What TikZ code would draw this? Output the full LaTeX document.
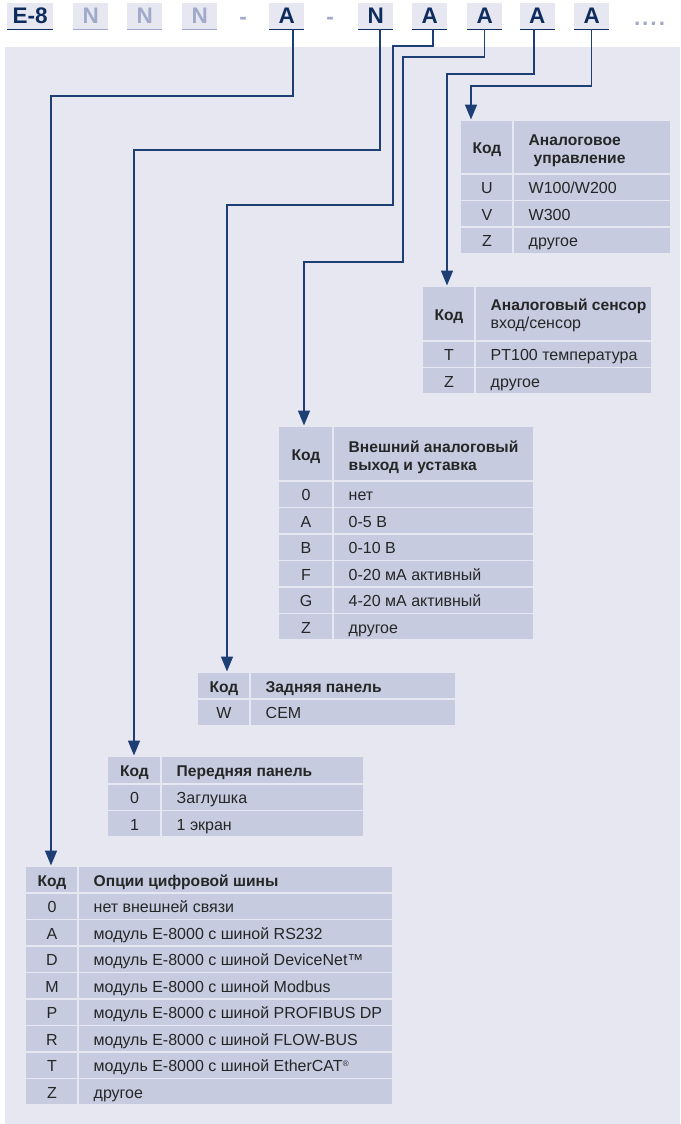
\documentclass[tikz,border=0pt]{standalone}
\usepackage{fontspec}
\setmainfont{Liberation Sans}
\usetikzlibrary{arrows.meta}
\definecolor{panel}{HTML}{E6E7F1}
\definecolor{cellc}{HTML}{C6CBE0}
\definecolor{navy}{HTML}{1E3F74}
\definecolor{navyd}{HTML}{0E2D5E}
\definecolor{grayb}{HTML}{A2AACB}
\definecolor{txt}{HTML}{262626}
\newcommand\tfont{\fontsize{16}{18}\selectfont}
\newcommand\bfont{\fontsize{15.6}{18}\selectfont\bfseries}
\newcommand\hfont{\fontsize{22.5}{24}\selectfont\bfseries}
\newcommand\twol[2]{\begin{tabular}[t]{@{}l@{}}#1\\#2\end{tabular}}
% row: name x0 xd x1 ytop h code desc
\newcommand\trow[8]{%
  \fill[cellc] (#2,#5) rectangle (#3-1,#5+#6);
  \fill[cellc] (#3+1,#5) rectangle (#4,#5+#6);
  \node[cellt, anchor=base] (#1c) at ({(#2+#3)/2},{#5+#6/2+6.5}) {#7};
  \node[cellt, anchor=base west] (#1d) at (#3+15.5,{#5+#6/2+6.5}) {#8};
}
% header: name x0 xd x1 ytop h desc dy
\newcommand\thead[8]{%
  \coordinate (#1) at (#2,#5);
  \fill[cellc] (#2,#5) rectangle (#3-1,#5+#6);
  \fill[cellc] (#3+1,#5) rectangle (#4,#5+#6);
  \node[cellt, font=\bfont, anchor=base] (#1k) at ({(#2+#3)/2},{#5+#6/2+6.5}) {Код};
  \node[cellt, font=\bfont, anchor=base west] (#1h) at (#3+15.5,#5+#8) {#7};
}
\begin{document}
\begin{tikzpicture}[x=1pt,y=-1pt,
  hbox/.style={fill=panel, inner sep=0, minimum width=35pt, minimum height=26pt, anchor=north west, font=\hfont, text=navyd},
  gbox/.style={hbox, text=grayb},
  cellt/.style={font=\tfont, text=txt, inner sep=0},
  conn/.style={draw=navy, line width=1.5pt, -{Triangle[width=12pt,length=15pt]}, shorten >=1.5pt},
  uline/.style={line width=1.6pt, draw=navyd},
  gline/.style={line width=1.6pt, draw=grayb}]
\useasboundingbox (0,0) rectangle (680,1124);
\fill[white] (0,0) rectangle (680,1124);
\fill[panel] (5,47) rectangle (680,1124);
% header code
\node[hbox, minimum width=46pt] (hE8) at (7,3) {E-8};
\node[gbox] (hN1) at (73,3) {N};
\node[gbox] (hN2) at (127,3) {N};
\node[gbox] (hN3) at (182,3) {N};
\node[font=\hfont, text=grayb, inner sep=0, anchor=base] (d1) at (243,25) {-};
\node[hbox] (hA1) at (269,3) {A};
\node[font=\hfont, text=grayb, inner sep=0, anchor=base] (d2) at (330,25) {-};
\node[hbox] (hN) at (358,3) {N};
\node[hbox] (hA2) at (412,3) {A};
\node[hbox] (hA3) at (467,3) {A};
\node[hbox] (hA4) at (519.5,3) {A};
\node[hbox] (hA5) at (574,3) {A};
\node[font=\hfont, text=grayb, inner sep=0, anchor=base] (dots) at (649.5,25.5) {.\kern2pt.\kern2pt.\kern2pt.};
\foreach \n in {hE8,hA1,hN,hA2,hA3,hA4,hA5} \draw[uline] (\n.south west) -- (\n.south east);
\foreach \n in {hN1,hN2,hN3} \draw[gline] (\n.south west) -- (\n.south east);
% table 1
\thead{t1}{461}{513}{670}{121}{52}{\twol{Аналоговое}{\hspace*{5pt}управление}}{24}
\trow{t1a}{461}{513}{670}{174.7}{24.8}{U}{W100/W200}
\trow{t1b}{461}{513}{670}{201.2}{24.8}{V}{W300}
\trow{t1c}{461}{513}{670}{227.7}{24.8}{Z}{другое}
% table 2
\thead{t2}{423}{475}{651}{287}{53}{\twol{Аналоговый сенсор}{\fontsize{16}{18}\selectfont\mdseries вход/сенсор}}{23}
\trow{t2a}{423}{475}{651}{341.7}{24.8}{T}{PT100 температура}
\trow{t2b}{423}{475}{651}{368.2}{24.8}{Z}{другое}
% table 3
\thead{t3}{279}{333}{533}{427}{53}{\twol{Внешний аналоговый}{выход и уставка}}{25}
\trow{t3a}{279}{333}{533}{481.7}{24.8}{0}{нет}
\trow{t3b}{279}{333}{533}{508.2}{24.8}{A}{0-5 В}
\trow{t3c}{279}{333}{533}{534.7}{24.8}{B}{0-10 В}
\trow{t3d}{279}{333}{533}{561.2}{24.8}{F}{0-20 мА активный}
\trow{t3e}{279}{333}{533}{587.7}{24.8}{G}{4-20 мА активный}
\trow{t3f}{279}{333}{533}{614.2}{24.8}{Z}{другое}
% table 4
\thead{t4}{198}{250}{455}{673}{25}{Задняя панель}{19}
\trow{t4a}{198}{250}{455}{699.7}{24.8}{W}{CEM}
% table 5
\thead{t5}{108}{161}{363}{757}{26}{Передняя панель}{19.5}
\trow{t5a}{108}{161}{363}{784.7}{24.8}{0}{Заглушка}
\trow{t5b}{108}{161}{363}{811.2}{24.8}{1}{1 экран}
% table 6
\thead{t6}{26}{78}{392}{867}{25}{Опции цифровой шины}{19}
\trow{t6a}{26}{78}{392}{893.7}{24.8}{0}{нет внешней связи}
\trow{t6b}{26}{78}{392}{920.2}{24.8}{A}{модуль E-8000 с шиной RS232}
\trow{t6c}{26}{78}{392}{946.7}{24.8}{D}{модуль E-8000 с шиной DeviceNet™}
\trow{t6d}{26}{78}{392}{973.2}{24.8}{M}{модуль E-8000 с шиной Modbus}
\trow{t6e}{26}{78}{392}{999.7}{24.8}{P}{модуль E-8000 с шиной PROFIBUS DP}
\trow{t6f}{26}{78}{392}{1026.2}{24.8}{R}{модуль E-8000 с шиной FLOW-BUS}
\trow{t6g}{26}{78}{392}{1052.7}{24.8}{T}{модуль E-8000 с шиной EtherCAT\raisebox{5pt}{\fontsize{8}{8}\selectfont ®}}
\trow{t6h}{26}{78}{392}{1079.2}{24.8}{Z}{другое}
% connectors
\coordinate (b1) at (51,96);
\coordinate (b2) at (134,150);
\coordinate (b3a) at (393,46);
\coordinate (b3b) at (227,205);
\coordinate (b4a) at (403,57);
\coordinate (b4b) at (304,262);
\coordinate (b5) at (447,74);
\coordinate (b6) at (471,86);
\draw[conn] ([xshift=6.5pt]hA1.south) |- (b1) -- (b1 |- t6);
\draw[conn] ([xshift=4.5pt]hN.south) |- (b2) -- (b2 |- t5);
\draw[conn] ([xshift=3.5pt]hA2.south) |- (b3a) |- (b3b) -- (b3b |- t4);
\draw[conn] (hA3.south) |- (b4a) |- (b4b) -- (b4b |- t3);
\draw[conn] ([xshift=-3pt]hA4.south) |- (b5) -- (b5 |- t2);
\draw[conn] (hA5.south) |- (b6) -- (b6 |- t1);
\end{tikzpicture}
\end{document}
